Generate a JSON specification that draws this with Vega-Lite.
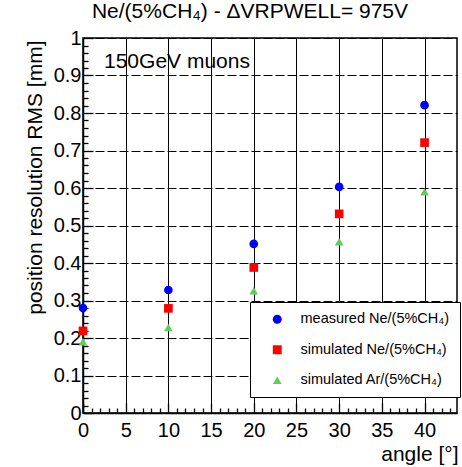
{
  "$schema": "https://vega.github.io/schema/vega-lite/v6.json",
  "autosize": {"type": "none"},
  "padding": {"left": 83, "top": 38, "right": 5, "bottom": 54},
  "width": 374,
  "height": 375,
  "title": {"text": "Ne/(5%CH₄) - ΔVRPWELL= 975V", "fontSize": 21, "font": "Liberation Sans", "fontWeight": "normal", "color": "black", "anchor": "middle", "offset": 6, "dx": -20},
  "config": {"view": {"stroke": "black", "strokeWidth": 1.5}, "font": "Liberation Sans"},
  "data": {"values": [
    {"angle": 0, "value": 0.28, "series": "measured Ne/(5%CH₄)"},
    {"angle": 10, "value": 0.328, "series": "measured Ne/(5%CH₄)"},
    {"angle": 20, "value": 0.451, "series": "measured Ne/(5%CH₄)"},
    {"angle": 30, "value": 0.603, "series": "measured Ne/(5%CH₄)"},
    {"angle": 40, "value": 0.821, "series": "measured Ne/(5%CH₄)"},
    {"angle": 0, "value": 0.219, "series": "simulated Ne/(5%CH₄)"},
    {"angle": 10, "value": 0.279, "series": "simulated Ne/(5%CH₄)"},
    {"angle": 20, "value": 0.388, "series": "simulated Ne/(5%CH₄)"},
    {"angle": 30, "value": 0.531, "series": "simulated Ne/(5%CH₄)"},
    {"angle": 40, "value": 0.721, "series": "simulated Ne/(5%CH₄)"},
    {"angle": 0, "value": 0.19, "series": "simulated Ar/(5%CH₄)"},
    {"angle": 10, "value": 0.228, "series": "simulated Ar/(5%CH₄)"},
    {"angle": 20, "value": 0.326, "series": "simulated Ar/(5%CH₄)"},
    {"angle": 30, "value": 0.457, "series": "simulated Ar/(5%CH₄)"},
    {"angle": 40, "value": 0.59, "series": "simulated Ar/(5%CH₄)"}
  ]},
  "layer": [
    {
      "mark": {"type": "point", "filled": true, "size": 75, "opacity": 1},
      "encoding": {
        "x": {"field": "angle", "type": "quantitative",
          "scale": {"domain": [0, 43.8], "nice": false, "zero": false},
          "axis": {
            "title": "angle [°]", "titleFontSize": 21, "titleFontWeight": "normal", "titleColor": "black",
            "titleAlign": "right", "titleAnchor": "end", "titleX": 375, "titleY": 41, "titleBaseline": "middle",
            "values": [0,1,2,3,4,5,6,7,8,9,10,11,12,13,14,15,16,17,18,19,20,21,22,23,24,25,26,27,28,29,30,31,32,33,34,35,36,37,38,39,40,41,42,43],
            "tickCount": 100,
            "labelExpr": "datum.value % 5 == 0 ? datum.label : ''",
            "format": "d", "labelFontSize": 20, "labelColor": "black", "labelPadding": 17,
            "labelFlush": false, "labelOverlap": false,
            "tickSize": {"condition": {"test": "datum.value % 5 == 0", "value": -10}, "value": -5},
            "tickColor": "black", "tickWidth": 1.3,
            "domainColor": "black", "domainWidth": 1.5,
            "grid": true, "gridColor": "black", "gridWidth": 1,
            "gridOpacity": {"condition": {"test": "datum.value % 5 == 0", "value": 1}, "value": 0}
          }
        },
        "y": {"field": "value", "type": "quantitative",
          "scale": {"domain": [0, 1], "nice": false, "zero": false},
          "axis": {
            "title": "position resolution RMS [mm]", "titleFontSize": 21, "titleFontWeight": "normal", "titleColor": "black",
            "titleAlign": "right", "titleAnchor": "end", "titleX": -48, "titleY": 2, "titleBaseline": "middle", "titleAngle": 270,
            "values": [0,0.02,0.04,0.06,0.08,0.1,0.12,0.14,0.16,0.18,0.2,0.22,0.24,0.26,0.28,0.3,0.32,0.34,0.36,0.38,0.4,0.42,0.44,0.46,0.48,0.5,0.52,0.54,0.56,0.58,0.6,0.62,0.64,0.66,0.68,0.7,0.72,0.74,0.76,0.78,0.8,0.82,0.84,0.86,0.88,0.9,0.92,0.94,0.96,0.98,1],
            "tickCount": 100,
            "labelExpr": "abs(datum.value*10 - round(datum.value*10)) < 0.000001 ? format(datum.value, '.1~f') : ''",
            "labelFontSize": 20, "labelColor": "black", "labelPadding": 12,
            "labelFlush": false, "labelOverlap": false,
            "tickSize": {"condition": {"test": "abs(datum.value*10 - round(datum.value*10)) < 0.000001", "value": -10}, "value": -5},
            "tickColor": "black", "tickWidth": 1.3,
            "domainColor": "black", "domainWidth": 1.5,
            "grid": true, "gridColor": "black", "gridWidth": 1, "gridDash": [9, 3],
            "gridOpacity": {"condition": {"test": "abs(datum.value*10 - round(datum.value*10)) < 0.000001", "value": 1}, "value": 0}
          }
        },
        "color": {"field": "series", "type": "nominal",
          "scale": {"domain": ["measured Ne/(5%CH₄)", "simulated Ne/(5%CH₄)", "simulated Ar/(5%CH₄)"], "range": ["#0000ff", "#ff0000", "#5fcc5f"]},
          "legend": {"title": null, "orient": "none", "legendX": 167, "legendY": 264,
            "fillColor": "white", "strokeColor": "black", "padding": 10,
            "symbolOffset": 10, "labelOffset": 16, "rowPadding": 15.5,
            "labelFontSize": 14.5, "labelColor": "black", "labelFont": "Liberation Sans", "symbolSize": 80, "labelLimit": 300}
        },
        "shape": {"field": "series", "type": "nominal",
          "scale": {"domain": ["measured Ne/(5%CH₄)", "simulated Ne/(5%CH₄)", "simulated Ar/(5%CH₄)"], "range": ["circle", "square", "triangle-up"]},
          "legend": {"title": null, "orient": "none", "legendX": 167, "legendY": 264,
            "fillColor": "white", "strokeColor": "black", "padding": 10,
            "symbolOffset": 10, "labelOffset": 16, "rowPadding": 15.5,
            "labelFontSize": 14.5, "labelColor": "black", "labelFont": "Liberation Sans", "symbolSize": 80, "labelLimit": 300}
        }
      }
    },
    {
      "data": {"values": [{"note": "150GeV muons"}]},
      "mark": {"type": "text", "align": "left", "baseline": "middle", "fontSize": 21, "font": "Liberation Sans", "color": "black"},
      "encoding": {
        "x": {"datum": 2.46, "type": "quantitative"},
        "y": {"datum": 0.936, "type": "quantitative"},
        "text": {"field": "note", "type": "nominal"}
      }
    }
  ]
}
